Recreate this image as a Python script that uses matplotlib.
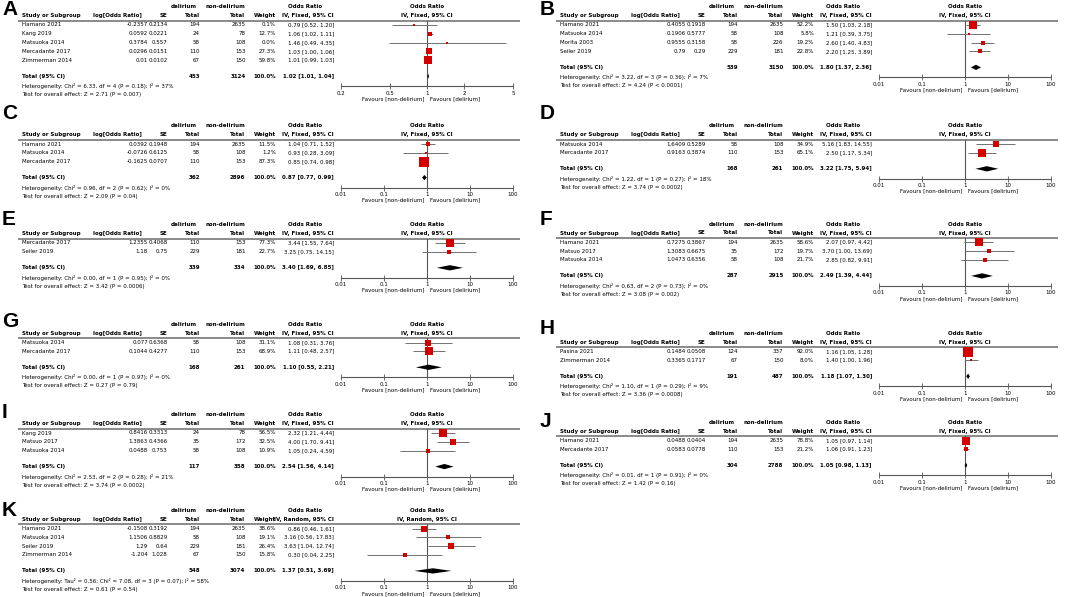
import numpy as np
import matplotlib
matplotlib.use("Agg")
import matplotlib.pyplot as plt
from matplotlib.ticker import NullLocator

W, H = 1084, 597
plt.rcParams['font.family'] = ['DejaVu Sans']

# ---------------- data ----------------
A_study = ["Hamano 2021", "Kang 2019", "Matsuoka 2014", "Mercadante 2017", "Zimmerman 2014"]
A_logor = [-0.2357, 0.0592, 0.3784, 0.0296, 0.01]
A_se = [0.2134, 0.0221, 0.557, 0.0151, 0.0102]
A_ndel = [194, 24, 58, 110, 67]
A_nnon = [2635, 78, 108, 153, 150]
A_wt = [0.1, 12.7, 0.0, 27.3, 59.8]
A_or = [0.79, 1.06, 1.46, 1.03, 1.01]
A_lo = [0.52, 1.02, 0.49, 1.00, 0.99]
A_hi = [1.20, 1.11, 4.35, 1.06, 1.03]
A_tot = [1.02, 1.01, 1.04]
A_het = "Chi² = 6.33, df = 4 (P = 0.18); I² = 37%"
A_z = "Z = 2.71 (P = 0.007)"

B_study = ["Hamano 2021", "Matsuoka 2014", "Morita 2003", "Seiler 2019"]
B_logor = [0.4055, 0.1906, 0.9555, 0.79]
B_se = [0.1918, 0.5777, 0.3158, 0.29]
B_ndel = [194, 58, 58, 229]
B_nnon = [2635, 108, 226, 181]
B_wt = [52.2, 5.8, 19.2, 22.8]
B_or = [1.50, 1.21, 2.60, 2.20]
B_lo = [1.03, 0.39, 1.40, 1.25]
B_hi = [2.18, 3.75, 4.83, 3.89]
B_tot = [1.80, 1.37, 2.36]
B_het = "Chi² = 3.22, df = 3 (P = 0.36); I² = 7%"
B_z = "Z = 4.24 (P < 0.0001)"

C_study = ["Hamano 2021", "Matsuoka 2014", "Mercadante 2017"]
C_logor = [0.0392, -0.0726, -0.1625]
C_se = [0.1948, 0.6125, 0.0707]
C_ndel = [194, 58, 110]
C_nnon = [2635, 108, 153]
C_wt = [11.5, 1.2, 87.3]
C_or = [1.04, 0.93, 0.85]
C_lo = [0.71, 0.28, 0.74]
C_hi = [1.52, 3.09, 0.98]
C_tot = [0.87, 0.77, 0.99]
C_het = "Chi² = 0.96, df = 2 (P = 0.62); I² = 0%"
C_z = "Z = 2.09 (P = 0.04)"

D_study = ["Matsuoka 2014", "Mercadante 2017"]
D_logor = [1.6409, 0.9163]
D_se = [0.5289, 0.3874]
D_ndel = [58, 110]
D_nnon = [108, 153]
D_wt = [34.9, 65.1]
D_or = [5.16, 2.50]
D_lo = [1.83, 1.17]
D_hi = [14.55, 5.34]
D_tot = [3.22, 1.75, 5.94]
D_het = "Chi² = 1.22, df = 1 (P = 0.27); I² = 18%"
D_z = "Z = 3.74 (P = 0.0002)"

E_study = ["Mercadante 2017", "Seiler 2019"]
E_logor = [1.2355, 1.18]
E_se = [0.4068, 0.75]
E_ndel = [110, 229]
E_nnon = [153, 181]
E_wt = [77.3, 22.7]
E_or = [3.44, 3.25]
E_lo = [1.55, 0.75]
E_hi = [7.64, 14.15]
E_tot = [3.40, 1.69, 6.85]
E_het = "Chi² = 0.00, df = 1 (P = 0.95); I² = 0%"
E_z = "Z = 3.42 (P = 0.0006)"

F_study = ["Hamano 2021", "Matsuo 2017", "Matsuoka 2014"]
F_logor = [0.7275, 1.3083, 1.0473]
F_se = [0.3867, 0.6675, 0.6356]
F_ndel = [194, 35, 58]
F_nnon = [2635, 172, 108]
F_wt = [58.6, 19.7, 21.7]
F_or = [2.07, 3.70, 2.85]
F_lo = [0.97, 1.00, 0.82]
F_hi = [4.42, 13.69, 9.91]
F_tot = [2.49, 1.39, 4.44]
F_het = "Chi² = 0.63, df = 2 (P = 0.73); I² = 0%"
F_z = "Z = 3.08 (P = 0.002)"

G_study = ["Matsuoka 2014", "Mercadante 2017"]
G_logor = [0.077, 0.1044]
G_se = [0.6368, 0.4277]
G_ndel = [58, 110]
G_nnon = [108, 153]
G_wt = [31.1, 68.9]
G_or = [1.08, 1.11]
G_lo = [0.31, 0.48]
G_hi = [3.76, 2.57]
G_tot = [1.10, 0.55, 2.21]
G_het = "Chi² = 0.00, df = 1 (P = 0.97); I² = 0%"
G_z = "Z = 0.27 (P = 0.79)"

H_study = ["Pasina 2021", "Zimmerman 2014"]
H_logor = [0.1484, 0.3365]
H_se = [0.0508, 0.1717]
H_ndel = [124, 67]
H_nnon = [337, 150]
H_wt = [92.0, 8.0]
H_or = [1.16, 1.40]
H_lo = [1.05, 1.00]
H_hi = [1.28, 1.96]
H_tot = [1.18, 1.07, 1.30]
H_het = "Chi² = 1.10, df = 1 (P = 0.29); I² = 9%"
H_z = "Z = 3.36 (P = 0.0008)"

I_study = ["Kang 2019", "Matsuo 2017", "Matsuoka 2014"]
I_logor = [0.8416, 1.3863, 0.0488]
I_se = [0.3313, 0.4366, 0.753]
I_ndel = [24, 35, 58]
I_nnon = [78, 172, 108]
I_wt = [56.5, 32.5, 10.9]
I_or = [2.32, 4.00, 1.05]
I_lo = [1.21, 1.70, 0.24]
I_hi = [4.44, 9.41, 4.59]
I_tot = [2.54, 1.56, 4.14]
I_het = "Chi² = 2.53, df = 2 (P = 0.28); I² = 21%"
I_z = "Z = 3.74 (P = 0.0002)"

J_study = ["Hamano 2021", "Mercadante 2017"]
J_logor = [0.0488, 0.0583]
J_se = [0.0404, 0.0778]
J_ndel = [194, 110]
J_nnon = [2635, 153]
J_wt = [78.8, 21.2]
J_or = [1.05, 1.06]
J_lo = [0.97, 0.91]
J_hi = [1.14, 1.23]
J_tot = [1.05, 0.98, 1.13]
J_het = "Chi² = 0.01, df = 1 (P = 0.91); I² = 0%"
J_z = "Z = 1.42 (P = 0.16)"

K_study = ["Hamano 2021", "Matsuoka 2014", "Seiler 2019", "Zimmerman 2014"]
K_logor = [-0.1508, 1.1506, 1.29, -1.204]
K_se = [0.3192, 0.8829, 0.64, 1.028]
K_ndel = [194, 58, 229, 67]
K_nnon = [2635, 108, 181, 150]
K_wt = [38.6, 19.1, 26.4, 15.8]
K_or = [0.86, 3.16, 3.63, 0.30]
K_lo = [0.46, 0.56, 1.04, 0.04]
K_hi = [1.61, 17.83, 12.74, 2.25]
K_tot = [1.37, 0.51, 3.69]
K_het = "Tau² = 0.56; Chi² = 7.08, df = 3 (P = 0.07); I² = 58%"
K_z = "Z = 0.61 (P = 0.54)"

ticks_narrow = [0.2, 0.5, 1, 2, 5]
ticks_wide = [0.01, 0.1, 1, 10, 100]

# panel layout: left x, y of first header line, letter baseline
layout = {
    "A": (0, 6.7, 15), "B": (538, 6.7, 15),
    "C": (0, 125.7, 119), "D": (538, 125.7, 119),
    "E": (0, 224.7, 225), "F": (538, 224, 225),
    "G": (0, 324.2, 327), "H": (538, 333.2, 334),
    "I": (0, 414.7, 418), "J": (538, 422.2, 427),
    "K": (0, 510.2, 516),
}

FS = 4.0
ROW = 8.8
RED = "#d40000"
GREY = "#707070"

fig = plt.figure(figsize=(W / 100, H / 100), dpi=100)
bg = fig.add_axes([0, 0, 1, 1])
bg.set_xlim(0, W)
bg.set_ylim(H, 0)
bg.axis("off")


def txt(x, y, s, ha="left", bold=False):
    bg.text(x, y, s, ha=ha, va="center", fontsize=FS,
            fontweight="bold" if bold else "normal")


def fmt_ci(e, l, h):
    return f"{e:.2f} [{l:.2f}, {h:.2f}]"


def draw_panel(letter, study, logor, se, ndel, nnon, wt, orr, lo, hi, tot,
               het, z, ticks, method="Fixed"):
    x0, top, base = layout[letter]
    h2 = top + 9
    line_y = top + 14
    row1 = top + 18.3
    n = len(study)

    bg.text(x0 + 2, base, letter, fontsize=15, fontweight="bold",
            va="baseline", family=["Liberation Sans", "DejaVu Sans"])

    # headers
    txt(x0 + 197, top, "delirium", "right", True)
    txt(x0 + 245.5, top, "non-delirium", "right", True)
    txt(x0 + 305, top, "Odds Ratio", "center", True)
    txt(x0 + 427, top, "Odds Ratio", "center", True)
    txt(x0 + 22, h2, "Study or Subgroup", bold=True)
    txt(x0 + 117, h2, "log[Odds Ratio]", "center", True)
    txt(x0 + 167.5, h2, "SE", "right", True)
    txt(x0 + 200, h2, "Total", "right", True)
    txt(x0 + 245.5, h2, "Total", "right", True)
    txt(x0 + 276, h2, "Weight", "right", True)
    txt(x0 + 334, h2, f"IV, {method}, 95% CI", "right", True)
    txt(x0 + 427, h2, f"IV, {method}, 95% CI", "center", True)
    bg.plot([x0 + 18, x0 + 520], [line_y, line_y], color="#8a8a8a", lw=1.4,
            solid_capstyle="butt")

    for i in range(n):
        y = row1 + i * ROW
        txt(x0 + 22, y, study[i])
        txt(x0 + 148, y, str(logor[i]), "right")
        txt(x0 + 167.5, y, str(se[i]), "right")
        txt(x0 + 200, y, str(ndel[i]), "right")
        txt(x0 + 245.5, y, str(nnon[i]), "right")
        txt(x0 + 276, y, f"{wt[i]:.1f}%", "right")
        txt(x0 + 334, y, fmt_ci(orr[i], lo[i], hi[i]), "right")

    yt = row1 + (n - 1) * ROW + 16
    txt(x0 + 22, yt, "Total (95% CI)", bold=True)
    txt(x0 + 200, yt, str(sum(ndel)), "right", True)
    txt(x0 + 245.5, yt, str(sum(nnon)), "right", True)
    txt(x0 + 276, yt, "100.0%", "right", True)
    txt(x0 + 334, yt, fmt_ci(*tot), "right", True)

    het_y = yt + 10
    txt(x0 + 22, het_y, "Heterogeneity: " + het)
    txt(x0 + 22, het_y + 8.5, "Test for overall effect: " + z)

    # forest plot
    ax = fig.add_axes([(x0 + 341) / W, 1 - het_y / H, 172 / W, (het_y - line_y) / H])
    ax.patch.set_alpha(0)
    ax.set_xscale("log")
    ax.set_xlim(ticks[0], ticks[-1])
    ax.set_ylim((het_y - row1) / ROW, (line_y - row1) / ROW)
    for s in ["top", "left", "right"]:
        ax.spines[s].set_visible(False)
    ax.spines["bottom"].set_color("#555555")
    ax.spines["bottom"].set_linewidth(0.8)
    ax.set_xticks(ticks)
    ax.set_xticklabels([f"{t:g}" for t in ticks])
    ax.xaxis.set_minor_locator(NullLocator())
    ax.set_yticks([])
    ax.tick_params(axis="x", direction="inout", length=4, width=0.6,
                   labelsize=FS, pad=1.2, color="#555555")
    ax.axvline(1, color="#555555", lw=0.8)

    for i in range(n):
        ax.hlines(i, lo[i], hi[i], color=GREY, lw=0.7)
        side = max(np.sqrt(wt[i]), 1.6) * 0.72
        ax.scatter(orr[i], i, marker="s", s=side ** 2, color=RED,
                   linewidths=0, zorder=3)

    ti = (yt - row1) / ROW
    e, l, h = tot
    ax.fill([l, e, h, e], [ti, ti - 0.3, ti, ti + 0.3], color="black",
            lw=0, zorder=3)

    fy = het_y + 12.5
    txt(x0 + 424.5, fy, "Favours [non-delirium]", "right")
    txt(x0 + 429.5, fy, "Favours [delirium]", "left")


draw_panel("A", A_study, A_logor, A_se, A_ndel, A_nnon, A_wt, A_or, A_lo, A_hi, A_tot, A_het, A_z, ticks_narrow)
draw_panel("B", B_study, B_logor, B_se, B_ndel, B_nnon, B_wt, B_or, B_lo, B_hi, B_tot, B_het, B_z, ticks_wide)
draw_panel("C", C_study, C_logor, C_se, C_ndel, C_nnon, C_wt, C_or, C_lo, C_hi, C_tot, C_het, C_z, ticks_wide)
draw_panel("D", D_study, D_logor, D_se, D_ndel, D_nnon, D_wt, D_or, D_lo, D_hi, D_tot, D_het, D_z, ticks_wide)
draw_panel("E", E_study, E_logor, E_se, E_ndel, E_nnon, E_wt, E_or, E_lo, E_hi, E_tot, E_het, E_z, ticks_wide)
draw_panel("F", F_study, F_logor, F_se, F_ndel, F_nnon, F_wt, F_or, F_lo, F_hi, F_tot, F_het, F_z, ticks_wide)
draw_panel("G", G_study, G_logor, G_se, G_ndel, G_nnon, G_wt, G_or, G_lo, G_hi, G_tot, G_het, G_z, ticks_wide)
draw_panel("H", H_study, H_logor, H_se, H_ndel, H_nnon, H_wt, H_or, H_lo, H_hi, H_tot, H_het, H_z, ticks_wide)
draw_panel("I", I_study, I_logor, I_se, I_ndel, I_nnon, I_wt, I_or, I_lo, I_hi, I_tot, I_het, I_z, ticks_wide)
draw_panel("J", J_study, J_logor, J_se, J_ndel, J_nnon, J_wt, J_or, J_lo, J_hi, J_tot, J_het, J_z, ticks_wide)
draw_panel("K", K_study, K_logor, K_se, K_ndel, K_nnon, K_wt, K_or, K_lo, K_hi, K_tot, K_het, K_z, ticks_wide, "Random")

fig.savefig("out.png", dpi=100)
